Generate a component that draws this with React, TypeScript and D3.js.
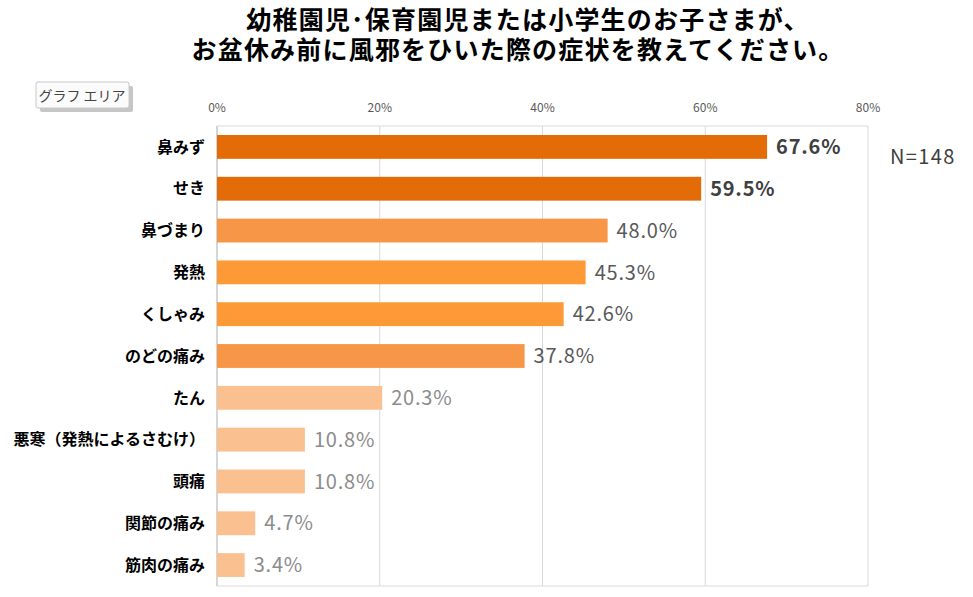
import * as d3 from "d3";

const categories = [
  "鼻みず",
  "せき",
  "鼻づまり",
  "発熱",
  "くしゃみ",
  "のどの痛み",
  "たん",
  "悪寒（発熱によるさむけ）",
  "頭痛",
  "関節の痛み",
  "筋肉の痛み",
];
const values = [67.6, 59.5, 48.0, 45.3, 42.6, 37.8, 20.3, 10.8, 10.8, 4.7, 3.4];
// tier per bar: 0 = top, 1 = middle, 2 = low
const tiers = [0, 0, 1, 1, 1, 1, 2, 2, 2, 2, 2];
const ticks = [0, 20, 40, 60, 80];
const titleLines = [
  "幼稚園児･保育園児または小学生のお子さまが、",
  "お盆休み前に風邪をひいた際の症状を教えてください。",
];

const barColors = ["#E36C09", "#E36C09", "#F79646", "#FD9A37", "#FD9A37", "#F79646", "#FAC090", "#FAC090", "#FAC090", "#FAC090", "#FAC090"];
const labelStyle = [
  { fill: "#404040", weight: 700 },
  { fill: "#595959", weight: 400 },
  { fill: "#8C8C8C", weight: 400 },
];

const font = "'Noto Sans CJK JP', 'Noto Sans', sans-serif";

export default function App() {
  const width = 973;
  const height = 597;
  const left = 217;
  const right = 868;
  const top = 126;
  const bottom = 586;

  const x = d3.scaleLinear().domain([0, 80]).range([left, right]);
  const y = d3.scaleBand<string>().domain(categories).range([top, bottom]).paddingInner(0.43).paddingOuter(0.215);

  return (
    <svg width={width} height={height} style={{ position: "absolute", left: 0, top: 0, background: "#fff" }} fontFamily={font}>
      {titleLines.map((t, i) => (
        <text
          key={t}
          x={i === 0 ? 528 : 518}
          y={29 + i * 30}
          textAnchor="middle"
          fontSize={25}
          letterSpacing={1.2}
          fontWeight={700}
          fill="#000"
          fontFamily="'Liberation Sans', 'Noto Sans CJK JP', sans-serif"
        >
          {t}
        </text>
      ))}

      <g>
        <rect x={40} y={86} width={93} height={26} rx={2} fill="#a0a0a0" opacity={0.6} />
        <rect x={36} y={82} width={93} height={26} rx={2} fill="#fbfbfb" stroke="#c8c8c8" />
        <text x={82} y={101} textAnchor="middle" fontSize={14} fill="#444">
          グラフ エリア
        </text>
      </g>

      <rect x={left} y={top} width={right - left} height={bottom - top} fill="none" stroke="#d9d9d9" />
      {ticks.slice(1, -1).map((t) => (
        <line key={t} x1={x(t)} x2={x(t)} y1={top} y2={bottom} stroke="#d9d9d9" />
      ))}
      <line x1={left} x2={left} y1={top} y2={bottom} stroke="#bfbfbf" />
      {ticks.map((t) => (
        <text key={t} x={x(t)} y={112} textAnchor="middle" fontSize={12} fill="#595959">
          {`${t}%`}
        </text>
      ))}

      {categories.map((c, i) => {
        const by = y(c) ?? 0;
        const bh = y.bandwidth();
        const st = labelStyle[tiers[i]];
        return (
          <g key={c}>
            <rect x={x(0)} y={by} width={x(values[i]) - x(0)} height={bh} fill={barColors[i]} />
            <text x={205} y={by + bh / 2} dy="0.36em" textAnchor="end" fontSize={16} fontWeight={700} fill="#000">
              {c}
            </text>
            <text x={x(values[i]) + 9} y={by + bh / 2} dy="0.36em" fontSize={20} letterSpacing={0.8} fontWeight={st.weight} fill={st.fill}>
              {`${values[i].toFixed(1)}%`}
            </text>
          </g>
        );
      })}

      <text x={890} y={164} fontSize={20} letterSpacing={1.4} fill="#404040">
        N=148
      </text>
    </svg>
  );
}
